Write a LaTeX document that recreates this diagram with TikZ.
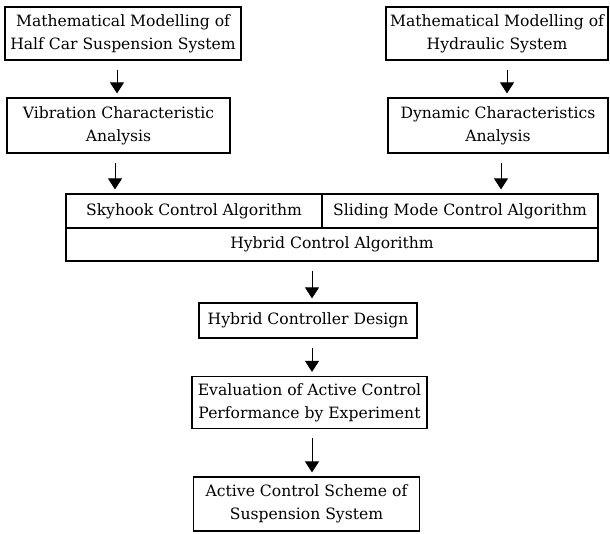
\documentclass[tikz,border=0pt]{standalone}
\usepackage{fontspec}
\setmainfont{DejaVu Serif}
\usetikzlibrary{arrows.meta,calc}
\begin{document}
\begin{tikzpicture}[x=1pt,y=-1pt,
  box/.style={draw,line width=1.2pt,inner sep=0pt,align=center,
    font=\fontsize{15.6}{23}\selectfont},
  arr/.style={line width=0.9pt,-{Triangle[width=14pt,length=11pt]},
    shorten <=9pt,shorten >=4pt}]
\useasboundingbox (0,0) rectangle (610,534);
% top row
\node[box,minimum width=236pt,minimum height=53pt] (A) at (123,33.5)
  {Mathematical Modelling of\\Half Car Suspension System};
\node[box,minimum width=222pt,minimum height=53pt] (C) at (497,33.5)
  {Mathematical Modelling of\\Hydraulic System};
\node[box,minimum width=223pt,minimum height=55pt] (B) at (118.5,125.5)
  {Vibration Characteristic\\Analysis};
\node[box,minimum width=220pt,minimum height=55pt] (D) at (498,125.5)
  {Dynamic Characteristics\\Analysis};
% algorithm block
\node[box,minimum width=256pt,minimum height=34pt] (sky) at (194,211)
  {Skyhook Control Algorithm};
\node[box,minimum width=276pt,minimum height=34pt] (slide) at (460,211)
  {Sliding Mode Control Algorithm};
\node[box,minimum width=532pt,minimum height=33pt] (hyb) at (332,244.5)
  {Hybrid Control Algorithm};
% lower chain
\node[box,minimum width=218pt,minimum height=35pt] (hcd) at (308,320.5)
  {Hybrid Controller Design};
\node[box,minimum width=235pt,minimum height=52pt] (eval) at (309.5,402.5)
  {Evaluation of Active Control\\Performance by Experiment};
\node[box,minimum width=226pt,minimum height=54pt] (acs) at (306.5,504)
  {Active Control Scheme of\\Suspension System};
% arrow columns
\coordinate (xa) at (117,0);
\coordinate (xc) at (507,0);
\coordinate (xb) at (115,0);
\coordinate (xd) at (501,0);
\coordinate (xm) at (312,0);
\draw[arr] (A.south -| xa) -- (B.north -| xa);
\draw[arr] (C.south -| xc) -- (D.north -| xc);
\draw[arr] (B.south -| xb) -- (sky.north -| xb);
\draw[arr] (D.south -| xd) -- (slide.north -| xd);
\draw[arr] (hyb.south -| xm) -- (hcd.north -| xm);
\draw[arr] (hcd.south -| xm) -- (eval.north -| xm);
\draw[arr] (eval.south -| xm) -- (acs.north -| xm);
\end{tikzpicture}
\end{document}
